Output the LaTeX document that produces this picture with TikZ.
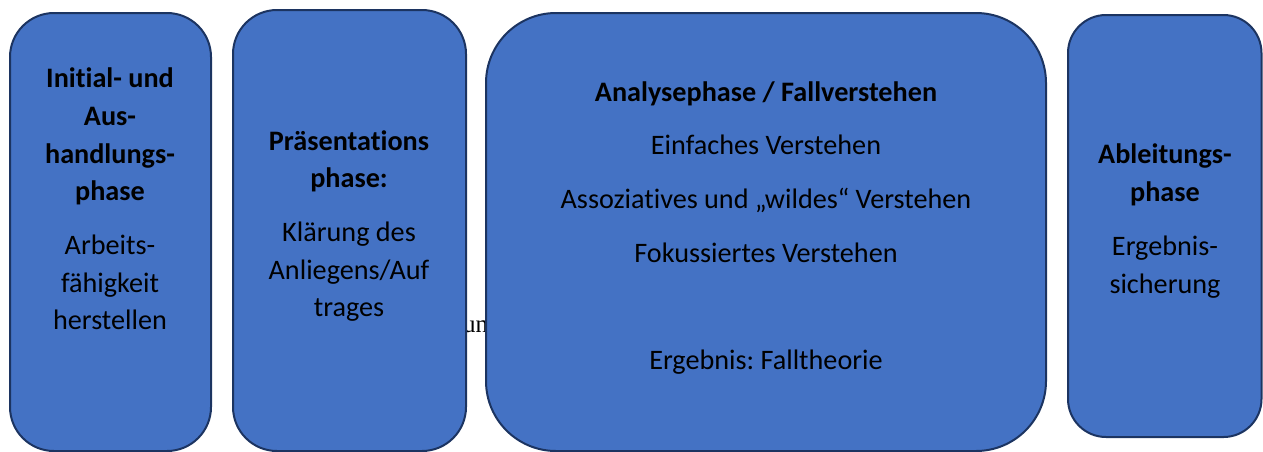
\documentclass[tikz,border=0pt]{standalone}
\usepackage{fontspec}
\setmainfont{Carlito}[Ligatures=NoCommon]
\newfontfamily\serifstray{Liberation Serif}
\usepackage{xcolor}
\definecolor{phasefill}{HTML}{4472C4}
\definecolor{phaseline}{HTML}{1C3461}
\frenchspacing

\tikzset{
  phasebox/.style={draw=phaseline, line width=2pt, fill=phasefill},
  phasetext/.style={align=center, inner sep=0pt, text=black,
    font=\fontsize{28.2}{37.7}\selectfont}
}

\begin{document}
\begin{tikzpicture}[x=1pt,y=-1pt]
\useasboundingbox (0,0) rectangle (1263,451);

% stray text half hidden behind the boxes
\node[anchor=base west, inner sep=0pt, font=\serifstray\fontsize{25}{28}\selectfont] (stray) at (463,332) {und};

% the four phases
\draw[phasebox, rounded corners=44pt] (10,13) rectangle (211,451);
\draw[phasebox, rounded corners=44pt] (233,10) rectangle (466,451);
\draw[phasebox, rounded corners=70pt] (486,13) rectangle (1046,451);
\draw[phasebox, rounded corners=38pt] (1068,15) rectangle (1261.5,437);

\node[phasetext] (initial) at (110,199) {\textbf{Initial- und}\\\textbf{Aus-}\\\textbf{handlungs-}\\\textbf{phase}\\[16pt]
  Arbeits-\\fähigkeit\\herstellen};
\node[phasetext] (praes) at (349,226) {\textbf{Präsentations}\\\textbf{phase:}\\[16pt]
  Klärung des\\Anliegens/Auf\\trages};
\node[phasetext] (analyse) at (766,228) {\textbf{Analysephase / Fallverstehen}\\[16pt]
  Einfaches Verstehen\\[16pt]
  Assoziatives und „wildes“ Verstehen\\[16pt]
  Fokussiertes Verstehen\\[70pt]
  Ergebnis: Falltheorie};
\node[phasetext] (ableitung) at (1165,221) {\textbf{Ableitungs-}\\\textbf{phase}\\[16pt]
  Ergebnis-\\sicherung};

\end{tikzpicture}
\end{document}
